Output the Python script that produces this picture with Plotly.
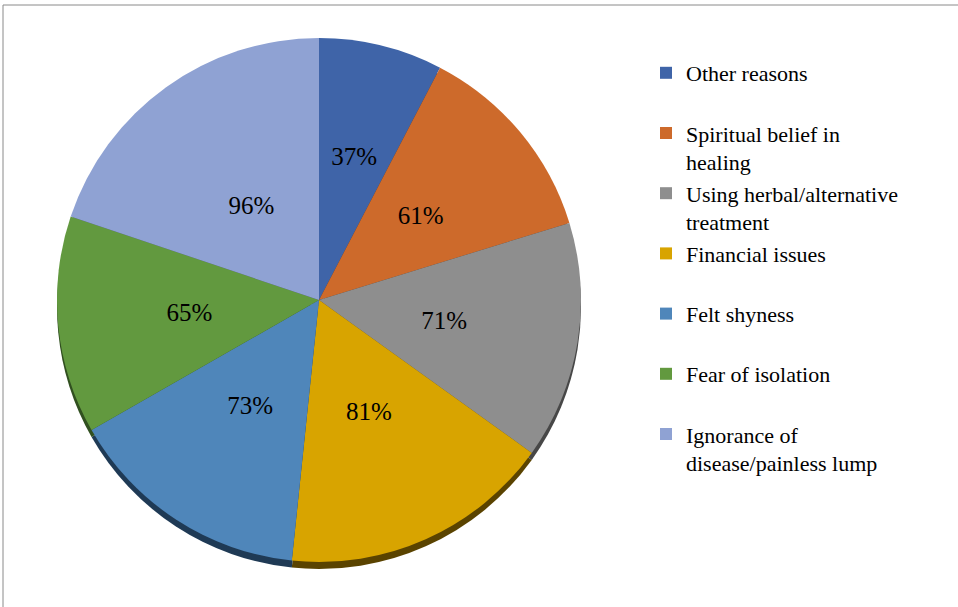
import plotly.graph_objects as go

# Reasons for delayed presentation, in drawing order (clockwise from 12 o'clock)
reasons = [
    "Other reasons",
    "Spiritual belief in<br>healing",
    "Using herbal/alternative<br>treatment",
    "Financial issues",
    "Felt shyness",
    "Fear of isolation",
    "Ignorance of<br>disease/painless lump",
]
percent = [37, 61, 71, 81, 73, 65, 96]

face_colors = ["#3F64A8", "#CD6A2B", "#8E8E8E", "#D8A400", "#4F86BA", "#62993F", "#8FA2D3"]
side_colors = ["#1F3455", "#6A3515", "#474747", "#5A4300", "#1F3A55", "#315020", "#46516A"]

SERIF = "Liberation Serif, Times New Roman, serif"

# Legend entries padded to two lines so every entry takes the same height
legend_names = [r if "<br>" in r else r + "<br> " for r in reasons]

W, H = 958, 607
cx, cy, r = 319, 300, 262
depth = 7
label_r = 0.70 * r   # radius of the transparent pie that carries the value labels


def dom(radius, dy=0):
    return dict(
        x=[(cx - radius) / W, (cx + radius) / W],
        y=[1 - (cy + radius + dy) / H, 1 - (cy - radius + dy) / H],
    )


fig = go.Figure()

# Darker copy underneath, offset down, gives the pie its raised edge
fig.add_trace(go.Pie(
    labels=legend_names, values=percent, sort=False, direction="clockwise", rotation=0,
    marker=dict(colors=side_colors, line=dict(width=0)),
    textinfo="none", hoverinfo="skip", showlegend=False, domain=dom(r, depth),
))

# Pie face
fig.add_trace(go.Pie(
    labels=legend_names, values=percent, sort=False, direction="clockwise", rotation=0,
    marker=dict(colors=face_colors, line=dict(width=0)),
    textinfo="none",
    hovertemplate="%{label}: %{value}%<extra></extra>",
    domain=dom(r),
))

# Value labels, set on a smaller transparent pie so they sit mid-slice
fig.add_trace(go.Pie(
    labels=legend_names, values=percent, sort=False, direction="clockwise", rotation=0,
    marker=dict(colors=["rgba(0,0,0,0)"] * len(percent), line=dict(width=0)),
    texttemplate="%{value}%", textposition="inside", insidetextorientation="horizontal",
    textfont=dict(family=SERIF, size=25, color="black"),
    hoverinfo="skip", showlegend=False, domain=dom(label_r),
))

fig.update_layout(
    width=W, height=H,
    margin=dict(l=0, r=0, t=0, b=0),
    paper_bgcolor="white", plot_bgcolor="white",
    font=dict(family=SERIF, color="black"),
    legend=dict(
        x=646 / W, xanchor="left", y=1 - 52 / H, yanchor="top",
        valign="top", traceorder="normal",
        font=dict(family=SERIF, size=22, color="black"),
        bgcolor="rgba(0,0,0,0)",
    ),
    shapes=[dict(
        type="rect", xref="paper", yref="paper",
        x0=3 / W, x1=1.01, y0=-0.01, y1=1 - 5 / H,
        line=dict(color="#8A8A8A", width=1), fillcolor="rgba(0,0,0,0)", layer="below",
    )],
)

fig.write_html("out.html")
